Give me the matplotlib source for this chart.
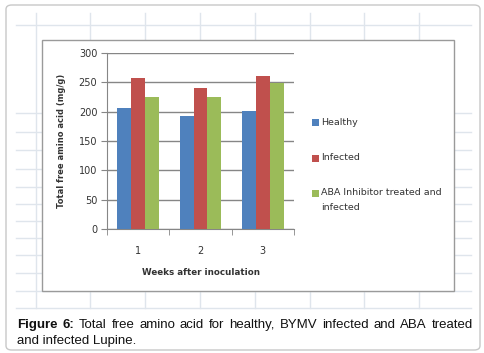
import matplotlib
matplotlib.use("Agg")
import matplotlib.pyplot as plt
import numpy as np
from matplotlib.patches import FancyBboxPatch, Rectangle
from matplotlib.lines import Line2D

# --- data ---
weeks = ["1", "2", "3"]
healthy = [206, 192, 201]
infected = [257, 241, 260]
aba = [225, 225, 249]
series = ["Healthy", "Infected", "ABA Inhibitor treated and\ninfected"]
colors = ["#4F81BD", "#C0504D", "#9BBB59"]
yticks = [0, 50, 100, 150, 200, 250, 300]

W, H = 484, 353
fig = plt.figure(figsize=(W / 100, H / 100), dpi=100)
fig.patch.set_facecolor("white")

def fx(x): return x / W
def fy(y): return 1 - y / H

# outer rounded frame
fig.add_artist(FancyBboxPatch((fx(6), fy(350)), fx(474), 345 / H,
                              boxstyle="round,pad=0,rounding_size=0.012",
                              transform=fig.transFigure, fc="white", ec="#c8c8c8",
                              lw=1.0, zorder=-5))

# spreadsheet cell lines behind the chart
gc = "#dfe5ec"
for x in [36, 90, 145, 200, 255, 310, 364, 419]:
    fig.add_artist(Line2D([fx(x), fx(x)], [fy(13), fy(308)], color=gc, lw=1.0, zorder=-4))
for y in [25, 113, 132, 150, 169, 187, 204, 221, 238, 255, 273, 291, 308]:
    fig.add_artist(Line2D([fx(16), fx(471)], [fy(y), fy(y)], color=gc, lw=1.0, zorder=-4))

# chart box
fig.add_artist(Rectangle((fx(42), fy(291)), fx(412), 251 / H, transform=fig.transFigure,
                         fc="white", ec="#9a9a9a", lw=1.0, zorder=-3))

ax = fig.add_axes([fx(107), fy(229), fx(187), 176 / H])
ax.set_facecolor("none")
x = np.arange(len(weeks))
w = 1 / 4.5
for i, (vals, c, lab) in enumerate(zip([healthy, infected, aba], colors, series)):
    ax.bar(x + (i - 1) * w, vals, width=w, color=c, label=lab, zorder=3)

ax.set_xlim(-0.5, 2.5)
ax.set_ylim(0, 300)
ax.set_yticks(yticks)
ax.set_xticks(x)
ax.set_xticklabels(weeks)
ax.set_xticks([-0.5, 0.5, 1.5, 2.5], minor=True)
ax.grid(axis="y", color="#868686", lw=1.0, zorder=0)
ax.set_axisbelow(True)
for s in ["top", "right"]:
    ax.spines[s].set_visible(False)
for s in ["left", "bottom"]:
    ax.spines[s].set_color("#868686")
ax.tick_params(axis="y", length=4, color="#868686", labelsize=7, labelcolor="#333333", pad=3)
ax.tick_params(axis="x", which="major", length=0, labelsize=7, labelcolor="#333333", pad=12)
ax.tick_params(axis="x", which="minor", length=4, color="#868686")
ax.set_xlabel("Weeks after inoculation", fontsize=6.3, fontweight="bold", color="#333333", labelpad=9)
ax.set_ylabel("Total free amino acid (mg/g)", fontsize=6.0, fontweight="bold", color="#333333", labelpad=9)

# legend, Excel style (swatch aligned with the first line)
leg_y = [123, 158, 193]
for lab, c, y in zip(series, colors, leg_y):
    fig.add_artist(Rectangle((fx(312), fy(y + 3.5)), fx(7), 7 / H, transform=fig.transFigure,
                             fc=c, ec="none"))
    fig.text(fx(321), fy(y - 5), lab, fontsize=6.8, color="#333333", va="top",
             ha="left", linespacing=1.85, transform=fig.transFigure)

# caption, justified on first line
fig.canvas.draw()
r = fig.canvas.get_renderer()
words = [("Figure", "bold"), ("6:", "bold"), ("Total", "normal"), ("free", "normal"),
         ("amino", "normal"), ("acid", "normal"), ("for", "normal"), ("healthy,", "normal"),
         ("BYMV", "normal"), ("infected", "normal"), ("and", "normal"), ("ABA", "normal"),
         ("treated", "normal")]
fs = 9.5
ts = []
for wd, wt in words:
    t = fig.text(0, fy(325), wd, fontsize=fs, fontweight=wt, family="Liberation Sans",
                 va="center", ha="left", color="#111111")
    ts.append(t)
widths = [t.get_window_extent(r).width for t in ts]
left, right = 17, 473
gap = (right - left - sum(widths)) / (len(ts) - 1)
cx = left
for t, wd in zip(ts, widths):
    t.set_x(fx(cx))
    cx += wd + gap
fig.text(fx(17), fy(341), "and infected Lupine.", fontsize=fs, family="Liberation Sans",
         va="center", ha="left", color="#111111")

fig.savefig("out.png", dpi=100)
